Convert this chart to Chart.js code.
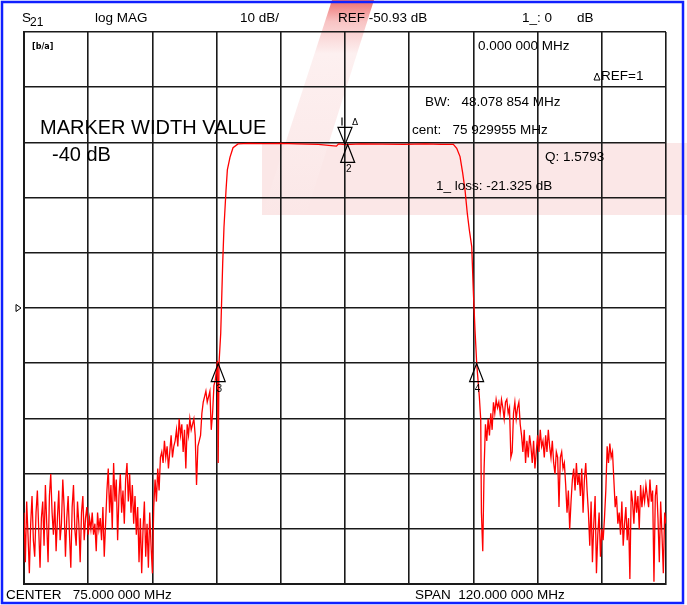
<!DOCTYPE html>
<html>
<head>
<meta charset="utf-8">
<script src="https://cdn.jsdelivr.net/npm/chart.js@4.4.1/dist/chart.umd.min.js"></script>
<style>
  html, body { margin: 0; padding: 0; background: #fff; }
  #wrap { width: 687px; height: 605px; position: relative; }
</style>
</head>
<body>
<div id="wrap"><canvas id="c"></canvas></div>
<script>
// sweep: center 75 MHz, span 120 MHz; 10 dB/div, REF -50.93 dB
const xTicks = [15, 27, 39, 51, 63, 75, 87, 99, 111, 123, 135];
const yTicks = [-100.93, -90.93, -80.93, -70.93, -60.93, -50.93, -40.93, -30.93, -20.93, -10.93, -0.93];
const refDb = -50.93;

// lower stopband, 15 MHz .. 51 MHz every 0.25 MHz
const lowStartMHz = 15, lowStepMHz = 0.25;
const lowSkirtDb = [
  -88, -97, -86, -92, -99, -90, -85, -93, -96, -88, -84, -91, -98,
  -89, -86, -94, -83, -90, -97, -85, -81, -88, -92, -86, -95, -89, -84, -93,
  -90, -82, -87, -96, -89, -85, -92, -98, -87, -83, -91, -94, -86, -90, -97, -88, -85, -93, -89, -87, -92,
  -89, -91, -88, -92, -90, -95, -88, -91, -89, -93, -87, -96, -90,
  -84, -80, -88, -83, -91, -79, -86, -82, -93, -85, -81, -88, -84, -90, -82,
  -79, -86, -81, -88, -83, -90, -85,
  -92, -87, -97, -89, -99, -91, -86, -96, -90, -98, -88, -94, -99, -87,
  -82, -86, -80, -84, -78,
  -77, -79, -75, -78, -76, -80, -77, -74, -78, -76, -75,
  -73, -76, -71, -74, -72, -77, -73,
  -80,
  -72, -74, -71, -73, -72, -71, -74,
  -83,
  -76, -75, -74, -70, -68, -67,
  -66, -68, -67, -66,
  -73, -70,
  -65, -64, -62
];

// skirts and passband
const bandMHz = [51.15, 51.3, 51.45, 51.77, 52.14, 52.38, 52.76, 53.01, 53.51, 54.07, 55.0,
  57, 60, 63, 66, 70, 73.4, 73.8, 75, 78, 82, 86, 90, 93, 95.25,
  95.88, 96.5, 97.0, 97.43, 97.86, 98.24, 98.69, 98.8, 98.98, 99.3, 99.62, 100.11, 100.37];
const bandDb = [-60.5, -79, -61, -55.5, -42.8, -36.3, -29.6, -25.9, -23.6, -21.9, -21.2,
  -21.1, -21.15, -21.1, -21.2, -21.3, -21.6, -21.2, -21.33, -21.2, -21.25, -21.3, -21.2, -21.3, -21.3,
  -22.0, -23.5, -26.5, -29.5, -33.8, -36.8, -39.8, -42.8, -47.7, -54.9, -61.0, -67.0, -71.2];

// upper stopband, 100.5 MHz .. 135 MHz every 0.25 MHz
const highStartMHz = 100.5, highStepMHz = 0.25;
const highSkirtDb = [
  -88, -95, -80,
  -72, -75, -71, -74, -70, -73,
  -68, -70, -67.5, -69, -68, -70, -67.5, -69, -71, -68, -67.5, -70, -69,
  -78, -77,
  -70, -68, -71, -69, -68, -72,
  -74, -77, -73, -79, -75, -78, -74, -76, -79, -75, -80, -77,
  -74, -77, -73, -76, -75, -78, -74, -77, -73, -76, -78, -75,
  -79, -81, -77, -78, -87, -78, -77, -80, -79, -83,
  -88, -84, -91, -86, -82,
  -80, -84, -79, -83, -81, -85, -80, -88, -82, -79, -84,
  -88, -94, -86, -97, -90, -85, -99, -92, -88, -96, -91, -93,
  -89, -84, -76, -79, -75.5, -78, -77, -82, -87, -85, -90,
  -88, -92, -86, -94, -90, -87, -93, -89,
  -100, -84,
  -86, -90, -84, -88, -85, -91, -83, -87,
  -84, -86, -83, -85, -87, -82, -86, -84, -100.5, -85, -83,
  -89, -97, -86, -92, -99, -88, -90
];

const markerMHz = [75.0, 75.5, 51.3, 99.6];
const markerDb = [-21.3, -21.3, -61.0, -61.0];
const markerNames = ['1', '2', '3', '4'];

const trace = [
  ...lowSkirtDb.map((v, i) => ({ x: lowStartMHz + i * lowStepMHz, y: v })),
  ...bandMHz.map((f, i) => ({ x: f, y: bandDb[i] })),
  ...highSkirtDb.map((v, i) => ({ x: highStartMHz + i * highStepMHz, y: v })),
];

const small = '13.5px "Liberation Sans", Arial, sans-serif';

const screenPlugin = {
  id: 'screen',
  beforeDraw(chart) {
    const ctx = chart.ctx;
    ctx.save();
    ctx.fillStyle = '#fff';
    ctx.fillRect(0, 0, chart.width, chart.height);
    // faint logo behind the grid
    ctx.fillStyle = '#fbe7e7';
    ctx.fillRect(262, 143, 425, 72);
    const g = ctx.createLinearGradient(0, 0, 0, 215);
    g.addColorStop(0, 'rgb(238, 110, 110)');
    g.addColorStop(0.1, 'rgb(248, 195, 195)');
    g.addColorStop(0.25, '#fdf0f0');
    g.addColorStop(1, '#fbe7e7');
    ctx.fillStyle = g;
    ctx.beginPath();
    ctx.moveTo(332, 0); ctx.lineTo(374, 0); ctx.lineTo(306, 215); ctx.lineTo(262, 215);
    ctx.closePath();
    ctx.fill();
    // window frame
    ctx.strokeStyle = '#1020ff';
    ctx.lineWidth = 2.5;
    ctx.strokeRect(2, 2, 681, 601);
    ctx.restore();
  },
  afterDatasetsDraw(chart) {
    const ctx = chart.ctx;
    const xs = chart.scales.x, ys = chart.scales.y;
    ctx.save();
    ctx.strokeStyle = '#000';
    ctx.fillStyle = '#000';
    ctx.lineWidth = 1.2;
    markerMHz.forEach((f, i) => {
      const px = xs.getPixelForValue(f), py = ys.getPixelForValue(markerDb[i]);
      ctx.beginPath();
      if (i === 0) {
        ctx.moveTo(px - 7, py - 17); ctx.lineTo(px + 7, py - 17); ctx.lineTo(px, py);
        ctx.closePath(); ctx.stroke();
        ctx.beginPath(); ctx.moveTo(px - 3, py - 27); ctx.lineTo(px - 3, py - 19); ctx.stroke();
        ctx.font = '9px "DejaVu Sans", sans-serif';
        ctx.textAlign = 'left';
        ctx.fillText('\u0394', px + 7, py - 19);
      } else {
        ctx.moveTo(px, py); ctx.lineTo(px + 7, py + 18); ctx.lineTo(px - 7, py + 18);
        ctx.closePath(); ctx.stroke();
        ctx.font = '10px "Liberation Sans", sans-serif';
        ctx.textAlign = 'center';
        ctx.fillText(markerNames[i], px + 1, py + 28);
      }
    });
    // reference position arrow
    const ry = ys.getPixelForValue(refDb);
    ctx.lineWidth = 1;
    ctx.beginPath();
    ctx.moveTo(16, ry - 3.5); ctx.lineTo(21, ry); ctx.lineTo(16, ry + 3.5); ctx.closePath();
    ctx.stroke();
    ctx.restore();
  },
  afterDraw(chart) {
    const ctx = chart.ctx;
    ctx.save();
    ctx.fillStyle = '#000';
    ctx.textAlign = 'left';
    ctx.font = small;
    // header
    ctx.fillText('S', 22, 22);
    ctx.font = '12px "Liberation Sans", Arial, sans-serif';
    ctx.fillText('21', 30, 26);
    ctx.font = small;
    ctx.fillText('log MAG', 95, 22);
    ctx.fillText('10 dB/', 240, 22);
    ctx.fillText('REF -50.93 dB', 338, 22);
    ctx.fillText('1_: 0', 522, 22);
    ctx.fillText('dB', 577, 22);
    // footer
    ctx.fillText('CENTER   75.000 000 MHz', 6, 599);
    ctx.fillText('SPAN  120.000 000 MHz', 415, 599);
    // marker readouts
    ctx.fillText('0.000 000 MHz', 478, 50);
    ctx.fillText('REF=1', 601, 80);
    ctx.fillText('BW:   48.078 854 MHz', 425, 106);
    ctx.fillText('cent:   75 929955 MHz', 412, 134);
    ctx.fillText('Q: 1.5793', 545, 161);
    ctx.fillText('1_ loss: -21.325 dB', 436, 190);
    ctx.lineWidth = 1;
    ctx.strokeStyle = '#000';
    ctx.beginPath();
    ctx.moveTo(594, 80); ctx.lineTo(600, 80); ctx.lineTo(597, 73); ctx.closePath();
    ctx.stroke();
    // marker width setting
    ctx.font = '20px "Liberation Sans", Arial, sans-serif';
    ctx.fillText('MARKER WIDTH VALUE', 40, 134);
    ctx.fillText('-40 dB', 52, 161);
    // ratio icon
    ctx.font = 'bold 8px "DejaVu Sans", sans-serif';
    ctx.fillText('[b/a]', 32, 49);
    ctx.restore();
  }
};

new Chart(document.getElementById('c'), {
  type: 'line',
  data: {
    datasets: [{
      data: trace,
      borderColor: '#ff0000',
      borderWidth: 1.3,
      pointRadius: 0,
      tension: 0,
      fill: false,
    }],
  },
  options: {
    responsive: true,
    maintainAspectRatio: false,
    animation: false,
    devicePixelRatio: 1,
    layout: { padding: { left: 24, top: 32, right: 21, bottom: 21 } },
    plugins: { legend: { display: false }, tooltip: { enabled: false } },
    scales: {
      x: {
        type: 'linear', min: 15, max: 135,
        afterBuildTicks: s => { s.ticks = xTicks.map(v => ({ value: v })); },
        afterFit: s => { s.height = 0; },
        ticks: { display: false },
        grid: { color: '#1a1a1a', lineWidth: 1.6, drawTicks: false },
        border: { color: '#1a1a1a', width: 2 },
      },
      y: {
        type: 'linear', min: -100.93, max: -0.93,
        afterBuildTicks: s => { s.ticks = yTicks.map(v => ({ value: v })); },
        afterFit: s => { s.width = 0; },
        ticks: { display: false },
        grid: { color: '#1a1a1a', lineWidth: 1.6, drawTicks: false },
        border: { color: '#1a1a1a', width: 2 },
      },
    },
  },
  plugins: [screenPlugin],
});
</script>
</body>
</html>
